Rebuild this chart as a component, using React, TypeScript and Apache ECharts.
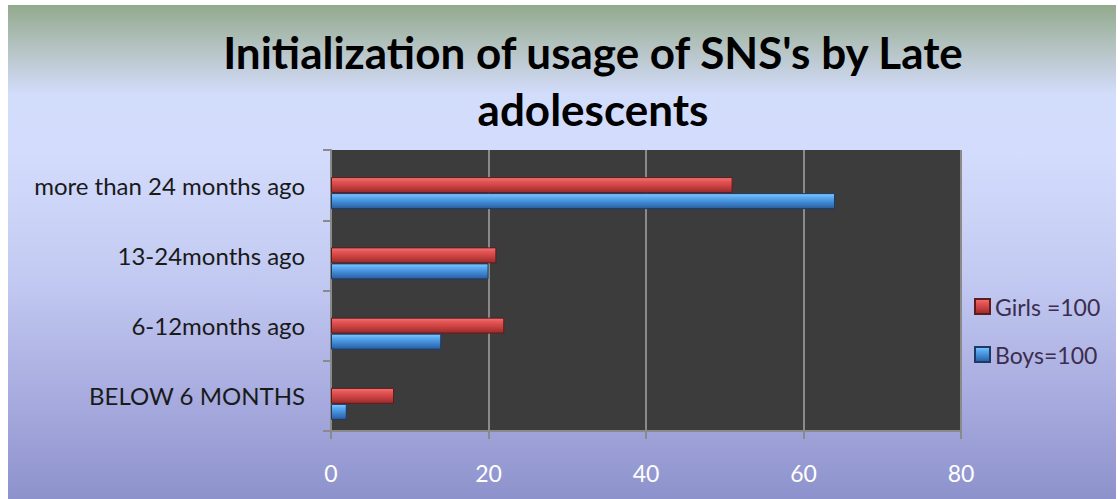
import React, { useEffect, useRef } from "react";
import * as echarts from "echarts";

const categories = ["BELOW 6 MONTHS", "6-12months ago", "13-24months ago", "more than 24 months ago"];
const girls = [8, 22, 21, 51];
const boys = [2, 14, 20, 64];
const spacer = [null, null, null, null];
const xTicks = { min: 0, max: 80, interval: 20 };
const titleLines = ["Initialization of usage of SNS's by Late", "adolescents"];

const FONT = "Lato, 'Open Sans', sans-serif";

const redGrad = new echarts.graphic.LinearGradient(0, 0, 0, 1, [
  { offset: 0, color: "#f27676" },
  { offset: 0.25, color: "#e55555" },
  { offset: 0.6, color: "#c84040" },
  { offset: 1, color: "#962a2a" },
]);
const blueGrad = new echarts.graphic.LinearGradient(0, 0, 0, 1, [
  { offset: 0, color: "#86c8ff" },
  { offset: 0.25, color: "#5aaaf0" },
  { offset: 0.6, color: "#3f86d0" },
  { offset: 1, color: "#2a5d9e" },
]);

export default function App() {
  const ref = useRef<HTMLDivElement>(null);
  useEffect(() => {
    document.body.style.margin = "0";
    const chart = echarts.init(ref.current!, undefined, { renderer: "svg" });
    chart.setOption({
      animation: false,
      graphic: [
        {
          type: "text",
          x: 585,
          y: 47,
          style: {
            text: titleLines[0],
            font: `bold 44px ${FONT}`,
            fill: "#000",
            textAlign: "center",
            textVerticalAlign: "middle",
          },
        },
        {
          type: "text",
          x: 585,
          y: 104,
          style: {
            text: titleLines[1],
            font: `bold 44px ${FONT}`,
            fill: "#000",
            textAlign: "center",
            textVerticalAlign: "middle",
          },
        },
      ],
      legend: {
        data: ["Girls =100", "Boys=100"],
        orient: "vertical",
        left: 961,
        top: 285,
        icon: "rect",
        itemWidth: 15,
        itemHeight: 15,
        itemGap: 25,
        textStyle: { fontFamily: FONT, fontSize: 23, color: "#3b2d4d" },
      },
      grid: {
        left: 323,
        top: 145,
        width: 630,
        height: 281,
        show: true,
        backgroundColor: "#3c3c3c",
        borderWidth: 0,
      },
      xAxis: {
        type: "value",
        min: xTicks.min,
        max: xTicks.max,
        interval: xTicks.interval,
        axisLine: { show: true, lineStyle: { color: "#8a8a8a", width: 2 } },
        axisTick: { show: true, length: 8, lineStyle: { color: "#8a8a8a", width: 2 } },
        splitLine: { show: true, lineStyle: { color: "#8a8a8a", width: 2 } },
        axisLabel: { color: "#ffffff", fontFamily: FONT, fontSize: 23, margin: 30 },
      },
      yAxis: {
        type: "category",
        data: categories,
        axisLine: { show: true, lineStyle: { color: "#8a8a8a", width: 2 } },
        axisTick: { show: true, length: 8, lineStyle: { color: "#8a8a8a", width: 2 } },
        axisLabel: { color: "#1a1a1a", fontFamily: FONT, fontSize: 24, margin: 26 },
      },
      series: [
        {
          name: "spacer",
          type: "bar",
          data: spacer,
          barWidth: 16,
          barGap: "0%",
          silent: true,
        },
        {
          name: "Girls =100",
          type: "bar",
          data: girls,
          barWidth: 16,
          barGap: "0%",
          itemStyle: { color: redGrad, borderColor: "#5e1c1c", borderWidth: 1 },
        },
        {
          name: "Boys=100",
          type: "bar",
          data: boys,
          barWidth: 16,
          barGap: "0%",
          itemStyle: { color: blueGrad, borderColor: "#1c3a66", borderWidth: 1 },
        },
      ],
    });
    return () => chart.dispose();
  }, []);
  return (
    <div style={{ paddingLeft: 8, paddingTop: 5, background: "#fff" }}>
      <div
        ref={ref}
        style={{
          width: 1108,
          height: 494,
          background:
            "linear-gradient(to bottom, #92aa8e 0%, #b6c4c4 9%, #d2dcfb 18%, #d3dcfc 30%, #c3caf2 55%, #a9ade0 78%, #8e92cc 100%)",
        }}
      />
    </div>
  );
}
